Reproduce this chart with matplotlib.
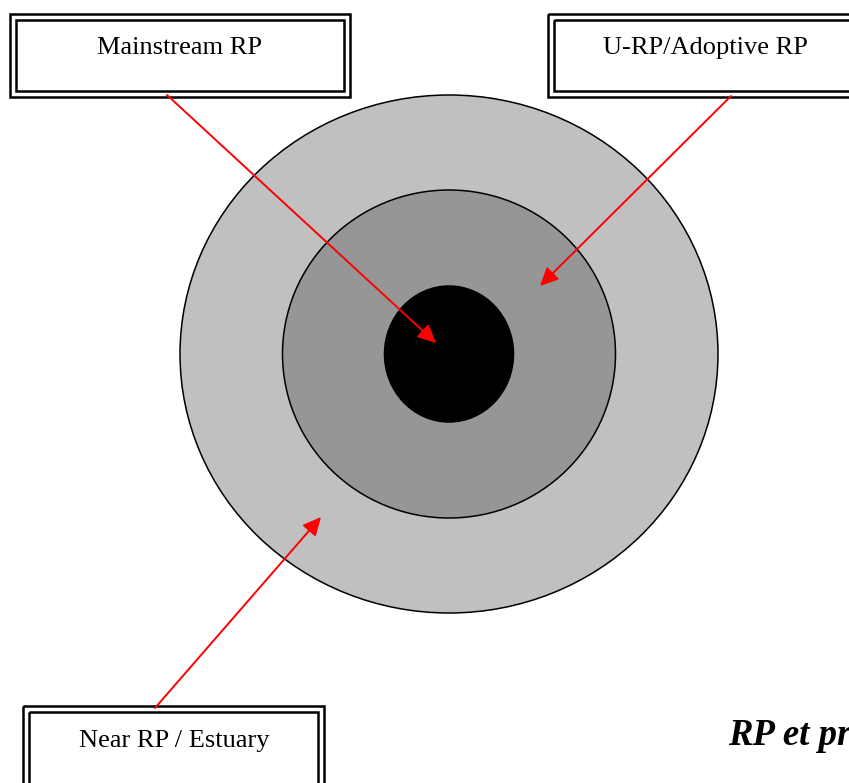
import matplotlib.pyplot as plt
from matplotlib.patches import Ellipse, Rectangle

# ring sizes (px) and fills, outer to inner
ring_w = [538, 333, 129]
ring_h = [518, 328, 136]
ring_col = ['#c0c0c0', '#969696', '#000000']

labels = ['Mainstream RP', 'U-RP/Adoptive RP', 'Near RP / Estuary']
title_txt = 'RP et pr'

fig = plt.figure(figsize=(8.49, 7.83), dpi=100)
ax = fig.add_axes([0, 0, 1, 1])
ax.set_xlim(0, 849)
ax.set_ylim(783, 0)
ax.axis('off')

cx, cy = 449, 354
for w, h, c in zip(ring_w, ring_h, ring_col):
    ax.add_patch(Ellipse((cx, cy), w, h, facecolor=c, edgecolor='black', lw=1.1))

# double-framed boxes: (x0, y0, x1, y1) of the outer frame
boxes = [(10, 14, 350, 97), (548, 14, 860, 97), (23, 706, 324, 800)]
text_xy = [(180, 48), (705, 48), (174, 741)]
for (x0, y0, x1, y1), lab, (tx, ty) in zip(boxes, labels, text_xy):
    ax.add_patch(Rectangle((x0, y0), x1 - x0, y1 - y0, fill=False, ec='black', lw=1.8))
    ax.add_patch(Rectangle((x0 + 6, y0 + 6), x1 - x0 - 12, y1 - y0 - 12,
                           fill=False, ec='black', lw=1.8))
    ax.text(tx, ty, lab, ha='center', va='center', fontsize=19,
            family='Liberation Serif')

# red pointer arrows
arrows = [((167, 95), (436, 343)), ((731, 96), (540, 286)), ((155, 708), (321, 517))]
for (sx, sy), (ex, ey) in arrows:
    ax.annotate('', xy=(ex, ey), xytext=(sx, sy),
                arrowprops=dict(arrowstyle='-|>,head_length=0.5,head_width=0.24',
                                color='red', lw=1.4,
                                mutation_scale=22, shrinkA=0, shrinkB=0))

ax.text(728, 745, title_txt, fontsize=26.5, family='Liberation Serif',
        fontweight='bold', fontstyle='italic', va='baseline')

fig.savefig('out.png', dpi=100)
